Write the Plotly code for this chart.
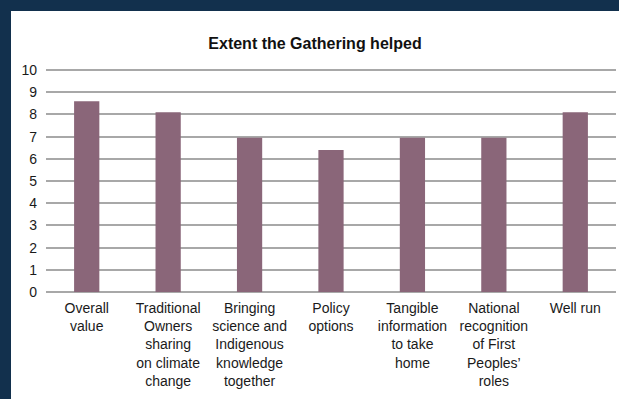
import plotly.graph_objects as go

# Survey results: average rating (0-10) for each aspect of the Gathering
categories = [
    "Overall<br>value",
    "Traditional<br>Owners<br>sharing<br>on climate<br>change",
    "Bringing<br>science and<br>Indigenous<br>knowledge<br>together",
    "Policy<br>options",
    "Tangible<br>information<br>to take<br>home",
    "National<br>recognition<br>of First<br>Peoples’<br>roles",
    "Well run",
]
scores = [8.6, 8.1, 6.95, 6.4, 6.95, 6.95, 8.1]
y_ticks = list(range(0, 11))

NAVY = "#12304d"
BAR = "#8a6679"
GRID = "#a8a8a8"

W, H = 619, 399
L, R, T, B = 46, 3, 69, 107
pw, ph = W - L - R, H - T - B
Y_TOP = 10.05  # a little headroom so the gridline at 10 is drawn


def px_x(p):
    return (p - L) / pw


def px_y(p):
    return (H - B - p) / ph


fig = go.Figure(
    go.Bar(
        x=categories,
        y=scores,
        marker=dict(color=BAR, line=dict(width=0)),
        width=0.31,
    )
)

# dark frame along the top and left edges
frame = [
    dict(x0=px_x(0), x1=px_x(W), y0=px_y(0), y1=px_y(11)),
    dict(x0=px_x(0), x1=px_x(11), y0=px_y(0), y1=px_y(H)),
]
fig.update_layout(
    shapes=[
        dict(type="rect", xref="paper", yref="paper", fillcolor=NAVY,
             line=dict(width=0), layer="below", **s)
        for s in frame
    ]
)

fig.update_layout(
    width=W,
    height=H,
    margin=dict(l=L, r=R, t=T, b=B, pad=0),
    paper_bgcolor="white",
    plot_bgcolor="white",
    showlegend=False,
    font=dict(family="Liberation Sans, Arial, sans-serif", color="#1a1a1a", size=14),
    title=dict(
        text="<b>Extent the Gathering helped</b>",
        x=(W + 11) / 2 / W,
        xanchor="center",
        y=1 - 43 / H,
        yanchor="middle",
        font=dict(size=16, color="#111111"),
    ),
    bargap=0.69,
)
fig.update_xaxes(
    showgrid=False,
    showline=False,
    ticks="",
    tickangle=0,
    tickfont=dict(size=14),
    ticklabelstandoff=6,
)
fig.update_yaxes(
    range=[0, Y_TOP],
    tickvals=y_ticks,
    showgrid=True,
    gridcolor=GRID,
    gridwidth=1.5,
    zeroline=True,
    zerolinecolor=GRID,
    zerolinewidth=1.5,
    showline=False,
    ticks="",
    tickfont=dict(size=14),
    ticklabelstandoff=8,
)

fig.write_html("out.html")
